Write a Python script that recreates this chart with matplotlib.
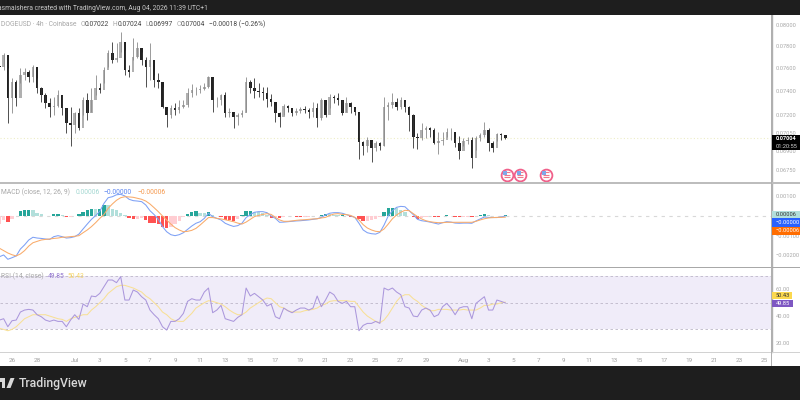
import numpy as np
import pandas as pd
import matplotlib
matplotlib.use("Agg")
import matplotlib.pyplot as plt
import matplotlib.dates as mdates
from matplotlib.patches import Rectangle, Polygon
from matplotlib.ticker import FixedLocator, FixedFormatter, NullLocator
from matplotlib.transforms import offset_copy

plt.rcParams['font.family'] = ['Roboto', 'DejaVu Sans']

# Values in units of 0.00001, one entry per 8 hours from 25 June
closes = [7615,7720,7339,7484,7339,7542,7571,7527,7615,7425,7367,7296,7268,7273,7367,7254,7128,7114,7211,7086,7324,7211,7324,7425,7411,7586,7735,7675,7690,7842,7586,7571,7705,7780,7675,7615,7675,7498,7484,7268,7197,7254,7240,7268,7282,7382,7411,7411,7417,7440,7527,7324,7324,7367,7211,7225,7183,7197,7217,7484,7425,7405,7396,7382,7330,7310,7211,7183,7273,7254,7211,7234,7245,7240,7225,7254,7169,7324,7197,7353,7339,7324,7211,7296,7268,7225,6970,6938,6991,6924,6965,6943,7268,7282,7310,7268,7324,7268,7197,7018,7005,7072,7086,7072,6965,6978,6991,7059,7059,6965,6897,6978,6991,6843,7005,7032,7072,6965,6924,7040,7032,7004]
highs = [7735,7741,7600,7513,7498,7600,7600,7586,7630,7513,7440,7382,7339,7353,7411,7367,7254,7268,7225,7254,7353,7382,7425,7542,7469,7615,7765,7842,7826,7927,7765,7630,7872,7842,7750,7705,7826,7542,7556,7440,7240,7282,7296,7324,7324,7425,7463,7434,7455,7469,7535,7513,7353,7376,7396,7254,7225,7211,7240,7521,7498,7513,7469,7440,7434,7376,7282,7225,7290,7282,7240,7254,7268,7273,7254,7310,7296,7344,7282,7373,7367,7382,7324,7347,7310,7245,7225,6978,7013,6978,6978,6970,7353,7310,7388,7339,7347,7310,7273,7205,7045,7128,7106,7100,7086,7059,7059,7086,7086,7018,7024,7005,7018,7013,7024,7045,7136,7086,6978,7051,7051,7024]
lows = [7571,7586,7128,7211,7273,7469,7498,7484,7484,7382,7310,7254,7183,7197,7268,7197,7045,6938,7045,7072,7197,7155,7225,7367,7382,7469,7615,7645,7660,7750,7542,7527,7675,7690,7630,7434,7498,7440,7425,7254,7100,7169,7197,7211,7254,7268,7353,7367,7388,7411,7425,7225,7268,7282,7177,7183,7086,7114,7183,7225,7382,7339,7353,7324,7268,7273,7141,7095,7197,7225,7189,7197,7211,7211,7169,7183,7100,7155,7177,7254,7296,7282,7197,7225,7211,7197,6835,6870,6889,6816,6897,6911,6938,7155,7254,7240,7245,7225,7067,6924,6916,6986,7005,7018,6956,6878,6951,7013,6991,6932,6835,6938,6959,6763,6911,6978,7018,6897,6889,6978,6991,6997]
macd_line = [-207,-198,-220,-212,-203,-168,-147,-122,-108,-112,-114,-117,-119,-105,-100,-105,-112,-110,-105,-92,-66,-41,-17,2,24,64,93,98,108,110,102,85,78,76,73,56,27,7,-17,-54,-80,-95,-100,-95,-85,-68,-51,-37,-29,-12,14,-3,-12,-20,-37,-46,-53,-49,-37,-8,7,19,22,22,17,0,-12,-32,-31,-29,-27,-25,-24,-22,-20,-17,-14,-7,5,14,17,17,14,7,0,-7,-37,-71,-85,-90,-92,-83,-46,0,27,44,49,47,27,7,-17,-24,-27,-31,-36,-41,-34,-29,-31,-36,-37,-36,-36,-37,-25,-15,-5,-7,-8,-8,-5,0]
signal_line = [-164,-176,-188,-197,-203,-193,-176,-153,-136,-129,-122,-119,-117,-114,-112,-108,-107,-105,-103,-100,-85,-71,-54,-34,-12,8,39,61,80,93,98,97,95,90,85,76,61,42,22,0,-20,-41,-59,-71,-80,-78,-73,-63,-46,-27,-8,-8,-12,-15,-19,-24,-29,-36,-41,-31,-17,-3,3,8,12,8,-7,-20,-27,-27,-25,-22,-20,-19,-17,-15,-14,-10,-7,3,10,12,8,7,3,-7,-20,-44,-61,-71,-78,-80,-66,-41,-14,5,19,29,27,12,-3,-15,-24,-29,-32,-34,-34,-32,-32,-32,-32,-32,-32,-32,-27,-20,-14,-10,-8,-7,-7,-6]
macd_hist = [-43,-22,-32,-15,0,25,29,31,28,17,8,2,2,9,12,3,-5,-5,-2,8,19,30,37,36,36,56,54,37,28,17,4,-12,-17,-14,-12,-20,-34,-35,-39,-54,-60,-54,-41,-24,-5,10,22,26,17,15,22,5,0,-5,-18,-22,-24,-13,4,23,24,22,19,14,5,-8,-5,-12,-4,-2,-2,-3,-4,-3,-3,-2,0,3,12,11,7,5,6,0,-3,0,-17,-27,-24,-19,-14,-3,20,41,41,39,30,18,0,-5,-14,-9,-3,-2,-4,-7,0,3,1,-4,-5,-4,-4,-5,2,5,9,3,0,-1,2,6]
rsi_line = [37,38,32,36.5,37,43,44.5,45,44.5,41,39.5,37,36,37,36,36,32,37,41,37.5,49,47,55,54.5,57,62,67,67,65,69.5,52,52,59.5,58,54.5,52,44.5,41,38,32,29.5,36,36,38,42,51,53,52,52,58,61,42.5,44.5,48,38,37,36,39,41,61,55,57,54.5,52,47.5,49,39.5,38,46,44,42.5,44.5,46,46,44.5,46,55,47,52,58,56,51,49.5,51,47,47,29,33,34.5,34.5,36,34.5,61,59.5,61,58,56,47,46,40,39.5,44.5,46,44.5,39.5,41,47,49.5,46,41,46,47,47,38,49.5,52,54.5,44.5,44.5,52,51,49.85]
rsi_ma = [30.8,30,29,30,32,35,38,39.5,41,41,41,41,40,39,38,37.5,36,38,39,40,41,41,44.5,47,50,53,57,59.5,62,63,63,62,61,59.5,58,55,53,50,47,43,41,38,36.5,36,36,39,42,46,48,50,51.5,51,50,49,47,44.5,42.5,41,41,43,46,48,50,52,53.5,53,50,47,46,44,43,43,43,44,44.5,45,46,48,49,51,51.5,51.5,51.5,51.5,51,51,47,43,40,38,36,35,37,41,46,51,54.5,56,56,53,51,48,46,44,44,45,45,45,44.5,44.5,44.5,45,44.5,44.5,44.5,46,48,48,49,49,50,50.43]

start_time = "2026-06-25 00:00"
price_ticks = [0.08, 0.078, 0.076, 0.074, 0.072, 0.0705, 0.069, 0.0675]
macd_ticks = [0.001, -0.001, -0.002]
rsi_ticks = [60, 40, 20]
date_ticks = ["2026-06-26","2026-06-28","2026-07-01","2026-07-03","2026-07-05","2026-07-07","2026-07-09","2026-07-11","2026-07-13","2026-07-15","2026-07-17","2026-07-19","2026-07-21","2026-07-23","2026-07-25","2026-07-27","2026-07-29","2026-08-01","2026-08-03","2026-08-05","2026-08-07","2026-08-09","2026-08-11","2026-08-13","2026-08-15","2026-08-17","2026-08-19","2026-08-21","2026-08-23","2026-08-25"]
date_labels = ["26","28","Jul","3","5","7","9","11","13","15","17","19","21","23","25","27","29","Aug","3","5","7","9","11","13","15","17","19","21","23","25"]
event_times = ["2026-08-04 10:30", "2026-08-05 13:00", "2026-08-07 13:00"]
event_price = 0.0671
last_price = 0.07004

W, H = 800, 400
fig = plt.figure(figsize=(8, 4), dpi=100, facecolor="white")

def px_axes(top, bottom, left=0, right=771.5):
    return fig.add_axes([left / W, 1 - bottom / H, (right - left) / W, (bottom - top) / H])

def ftext(x, y, s, color="#888888", size=4.9, ha="left", weight="normal", z=10):
    fig.text(x / W, 1 - y / H, s, color=color, fontsize=size, ha=ha, va="center",
             fontweight=weight, zorder=z)

def box(x0, y0, x1, y1, color, z=5):
    fig.add_artist(Rectangle((x0 / W, 1 - y1 / H), (x1 - x0) / W, (y1 - y0) / H,
                             transform=fig.transFigure, facecolor=color, edgecolor="none", zorder=z))

ax = px_axes(15, 182.5)
ax_m = px_axes(183.5, 266.5)
ax_r = px_axes(268, 352)

t = pd.date_range(start_time, periods=len(closes), freq="8h")
x = mdates.date2num(t)
c = np.array(closes) / 1e5
o = np.r_[0.0762, c[:-1]]
hi = np.array(highs) / 1e5
lo = np.array(lows) / 1e5
up = c >= o
bar_w = 8 / 24 * 0.6

ax.vlines(x[up], lo[up], hi[up], color="#8a8a8a", lw=0.6)
ax.vlines(x[~up], lo[~up], hi[~up], color="#333333", lw=0.6)
ax.bar(x[up], (c - o)[up], bottom=o[up], width=bar_w, color="#b0b0b0", lw=0)
ax.bar(x[~up], (o - c)[~up], bottom=c[~up], width=bar_w, color="#222222", lw=0)
ax.axhline(last_price, color="#eeeec8", lw=0.8, ls=(0, (1, 2)), zorder=0)
ax.set_yscale("log")
ax.set_ylim(0.06651, 0.0809)

ex = mdates.date2num(pd.to_datetime(event_times))
ey = np.full(len(ex), event_price)
ax.scatter(ex, ey, s=72, facecolor="white", edgecolor="#f0608a", lw=1.3, zorder=5)
for dy in (-1.8, 0.2, 2.0):
    ax.scatter(ex, ey, s=22, marker="_", color="#ee7a8c", lw=0.8, zorder=6,
               transform=offset_copy(ax.transData, fig=fig, x=0, y=dy, units="points"))
ax.scatter(ex, ey, s=6, marker="s", color="#7fa8e8", lw=0, zorder=7,
           transform=offset_copy(ax.transData, fig=fig, x=-0.8, y=1.6, units="points"))

m = np.array(macd_hist) / 1e5
prev = np.r_[m[0], m[:-1]]
colors = ["#26a69a" if (v >= 0 and v >= p) else "#b2dfdb" if v >= 0 else
          "#ffcdd2" if v >= p else "#ff5252" for v, p in zip(m, prev)]
ax_m.bar(x, m, width=8 / 24 * 0.8, color=colors, lw=0)
ax_m.axhline(0, color="#d8d8d8", lw=0.8, ls=(0, (3, 4)), zorder=0)
ax_m.plot(x, np.array(macd_line) / 1e5, color="#7da0f5", lw=0.75)
ax_m.plot(x, np.array(signal_line) / 1e5, color="#f9ab6a", lw=0.75)
ax_m.set_ylim(-0.002567, 0.001652)

ax_r.axhspan(30, 70, color="#f0ecf9", lw=0, zorder=0)
for lvl in (70, 50, 30):
    ax_r.axhline(lvl, color="#bdb7c8", lw=0.6, ls=(0, (3, 3)), zorder=1)
ax_r.plot(x, rsi_line, color="#ab97dc", lw=0.75, zorder=3)
ax_r.plot(x, rsi_ma, color="#f8e096", lw=0.75, zorder=2)
ax_r.set_ylim(13.07, 76)

xmin = mdates.date2num(pd.Timestamp("2026-06-25 01:00"))
xmax = mdates.date2num(pd.Timestamp("2026-08-25 13:30"))
yticks = {ax: (price_ticks, [f"{v:.5f}" for v in price_ticks]),
          ax_m: (macd_ticks, [f"{v:.5f}".replace("-", "\u2212") for v in macd_ticks]),
          ax_r: (rsi_ticks, [f"{v:.2f}" for v in rsi_ticks])}
for a, (tk, lb) in yticks.items():
    a.set_xlim(xmin, xmax)
    a.yaxis.tick_right()
    a.yaxis.set_major_locator(FixedLocator(tk))
    a.yaxis.set_major_formatter(FixedFormatter(lb))
    a.yaxis.set_minor_locator(NullLocator())
    a.tick_params(axis="y", length=0, labelsize=4.1, labelcolor="#a8a8a8", pad=3.2)
    a.set_xticks([])
    for s in ("top", "left", "bottom"):
        a.spines[s].set_visible(False)
    a.spines["right"].set_color("#b0b0b0")
    a.spines["right"].set_linewidth(1.0)

ax_r.set_xticks(mdates.date2num(pd.to_datetime(date_ticks)))
ax_r.set_xticklabels(date_labels)
ax_r.tick_params(axis="x", length=0, labelsize=4.6, labelcolor="#a0a0a0", pad=4)

# frame bands and separators
box(0, 0, W, 15, "#1e1e1e")
box(0, 366, W, H, "#1e1e1e")
box(0, 182, W, 183.6, "#bdbdbd", z=4)
box(0, 266.6, W, 268, "#a8a8a8", z=4)
box(0, 351.6, W, 353, "#d2d2d2", z=4)
box(771, 15, 772, 366, "#b0b0b0", z=4)

ftext(-2, 9, "asmaishera created with TradingView.com, Aug 04, 2026 11:39 UTC+1", color="#c8c8c8")

ftext(1, 24, "DOGEUSD \u00b7 4h \u00b7 Coinbase", color="#a8a8a8")
for xp, s in ((81, "O"), (113, "H"), (146, "L"), (177, "C")):
    ftext(xp, 24, s, color="#a8a8a8")
for xp, s in ((85, "0.07022"), (118, "0.07024"), (149, "0.06997"), (181, "0.07004"),
              (209, "\u22120.00018 (\u22120.26%)")):
    ftext(xp, 24, s, color="#444444")

ftext(1, 192, "MACD (close, 12, 26, 9)", color="#a8a8a8")
ftext(76, 192, "0.00006", color="#a5d8d2")
ftext(104, 192, "\u22120.00000", color="#5b84ef")
ftext(137, 192, "\u22120.00006", color="#f59a50")

ftext(1, 276.5, "RSI (14, close)", color="#a8a8a8")
ftext(48, 276.5, "49.85", color="#9478d0")
ftext(68, 276.5, "50.43", color="#f5d56a")

# price and indicator tags
box(772, 135, W, 150, "#000000")
ftext(776, 139, "0.07004", color="white", size=4.1, weight="bold")
ftext(776, 146, "01:20:55", color="#d8d8d8", size=4.1)
box(772, 210.7, W, 218.3, "#b2dfdb")
ftext(776, 214.5, "0.00006", color="#333333", size=4.1)
box(772, 218.3, W, 226.5, "#2962ff")
ftext(776, 222.4, "\u22120.00000", color="white", size=4.1)
box(772, 226.7, W, 234.8, "#ff6d00")
ftext(776, 230.8, "\u22120.00006", color="white", size=4.1)
box(772, 291.7, 792, 299.4, "#fbd84e")
ftext(776, 295.6, "50.43", color="#333333", size=4.1)
box(772, 299.7, 793, 307.4, "#7e57c2")
ftext(776, 303.6, "49.85", color="white", size=4.1)

# footer logo
lc = "#d8d8d8"
box(0, 378, 5, 381.5, lc, z=6)
box(2, 378, 5, 388, lc, z=6)
fig.add_artist(Polygon([(6.5 / W, 1 - 388 / H), (10.5 / W, 1 - 388 / H), (14.5 / W, 1 - 378 / H), (10.5 / W, 1 - 378 / H)],
                       transform=fig.transFigure, facecolor=lc, edgecolor="none", zorder=6))
ftext(19, 383, "TradingView", color="#d8d8d8", size=8.8, weight="medium")

fig.savefig("out.png", dpi=100, facecolor="white")
